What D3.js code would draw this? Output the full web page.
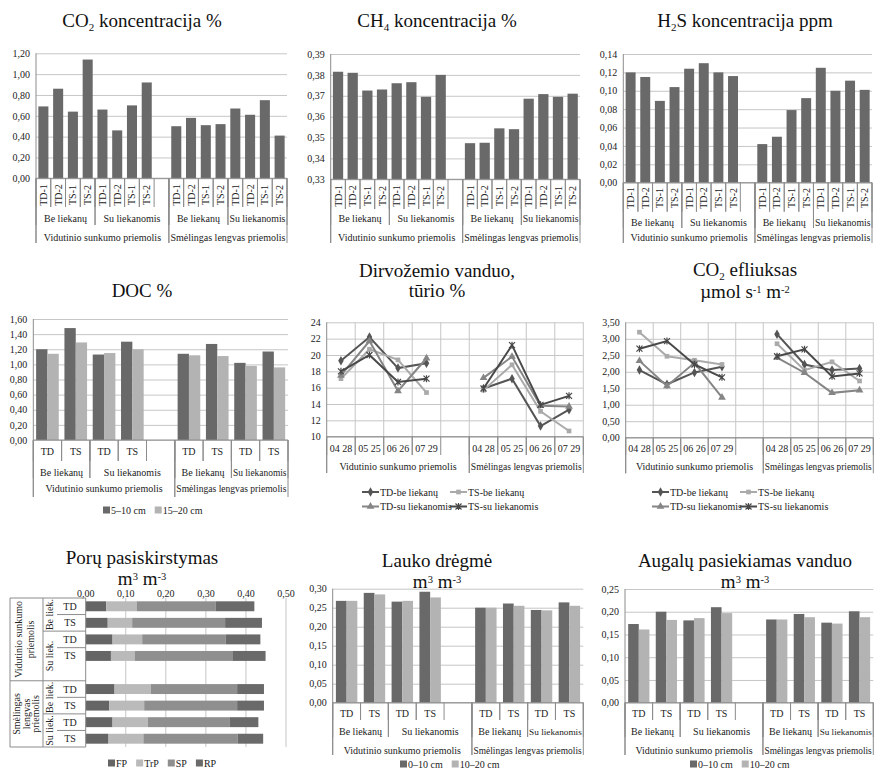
<!DOCTYPE html>
<html>
<head>
<meta charset="utf-8">
<script src="https://cdn.jsdelivr.net/npm/d3@7"></script>
<style>
body { margin: 0; background: #fff; }
svg { display: block; }
</style>
</head>
<body>
<svg id="chart" width="876" height="773"></svg>
<script>
//----------------------------------------------------------------
// donnees
//----------------------------------------------------------------
var gasCats = ["TD-1", "TD-2", "TS-1", "TS-2"];
var treatCats = ["TD", "TS"];
var residueGroups = ["Be liekanų", "Su liekanomis"];
var soilGroups = ["Vidutinio sunkumo priemolis", "Smėlingas lengvas priemolis"];
var dates = ["04 28", "05 25", "06 26", "07 29"];

// dujų koncentracija : Vid (Be TD-1..TS-2, Su TD-1..TS-2), Sm (idem)
var co2Conc = [0.69, 0.86, 0.64, 1.14, 0.66, 0.46, 0.70, 0.92, 0.50, 0.58, 0.51, 0.52, 0.67, 0.61, 0.75, 0.41];
var ch4Conc = [0.3815, 0.381, 0.3725, 0.373, 0.376, 0.3765, 0.3695, 0.380, 0.3473, 0.3475, 0.3544, 0.354, 0.3686, 0.3708, 0.3695, 0.371];
var h2sConc = [0.120, 0.115, 0.089, 0.104, 0.124, 0.130, 0.120, 0.116, 0.042, 0.050, 0.079, 0.092, 0.125, 0.100, 0.111, 0.101];

var co2Ticks = [0, 0.2, 0.4, 0.6, 0.8, 1.0, 1.2];
var ch4Ticks = [0.33, 0.34, 0.35, 0.36, 0.37, 0.38, 0.39];
var h2sTicks = [0, 0.02, 0.04, 0.06, 0.08, 0.10, 0.12, 0.14];

// DOC % (TD, TS ; Be, Su ; Vid, Sm)
var depthDoc = ["5–10 cm", "15–20 cm"];
var doc510 = [1.20, 1.48, 1.13, 1.30, 1.14, 1.27, 1.02, 1.17];
var doc1520 = [1.14, 1.29, 1.15, 1.20, 1.12, 1.11, 0.98, 0.96];
var docTicks = [0, 0.2, 0.4, 0.6, 0.8, 1.0, 1.2, 1.4, 1.6];

// series des graphiques en lignes
var lineSeries = ["TD-be liekanų", "TS-be liekanų", "TD-su liekanomis", "TS-su liekanomis"];
var moistTDbe = [19.3, 22.2, 18.4, 19.0, 15.9, 17.1, 11.3, 13.3];
var moistTSbe = [17.1, 20.7, 19.4, 15.4, 15.7, 18.8, 13.1, 10.7];
var moistTDsu = [17.5, 21.7, 15.6, 19.6, 17.2, 19.8, 13.8, 13.7];
var moistTSsu = [18.0, 20.0, 16.7, 17.1, 15.9, 21.2, 13.9, 15.0];
var moistTicks = [10, 12, 14, 16, 18, 20, 22, 24];

var effTDbe = [2.05, 1.62, 1.98, 2.15, 3.14, 2.22, 2.05, 2.10];
var effTSbe = [3.20, 2.47, 2.35, 2.22, 2.85, 2.05, 2.30, 1.72];
var effTDsu = [2.33, 1.57, 2.27, 1.22, 2.43, 1.97, 1.36, 1.44];
var effTSsu = [2.70, 2.93, 2.22, 1.83, 2.47, 2.68, 1.86, 1.95];
var effTicks = [0, 0.5, 1.0, 1.5, 2.0, 2.5, 3.0, 3.5];

// porų pasiskirstymas (eilutes : Vid Be TD, TS, Su TD, TS, Sm Be TD, TS, Su TD, TS)
var poreTypes = ["FP", "TrP", "SP", "RP"];
var poreFP  = [0.051, 0.055, 0.067, 0.063, 0.072, 0.059, 0.067, 0.057];
var poreTrP = [0.076, 0.061, 0.074, 0.060, 0.091, 0.087, 0.088, 0.087];
var poreSP  = [0.197, 0.232, 0.208, 0.243, 0.215, 0.232, 0.205, 0.235];
var poreRP  = [0.097, 0.092, 0.087, 0.083, 0.067, 0.067, 0.071, 0.064];
var poreTicks = [0, 0.1, 0.2, 0.3, 0.4, 0.5];

// lauko drėgmė ir augalų pasiekiamas vanduo
var depthWater = ["0–10 cm", "10–20 cm"];
var field010 = [0.268, 0.289, 0.266, 0.292, 0.250, 0.261, 0.244, 0.264];
var field1020 = [0.268, 0.285, 0.268, 0.277, 0.250, 0.255, 0.243, 0.255];
var fieldTicks = [0, 0.05, 0.10, 0.15, 0.20, 0.25, 0.30];
var avail010 = [0.173, 0.200, 0.181, 0.210, 0.183, 0.195, 0.176, 0.201];
var avail1020 = [0.161, 0.182, 0.186, 0.197, 0.183, 0.188, 0.174, 0.188];
var availTicks = [0, 0.05, 0.10, 0.15, 0.20, 0.25];

//----------------------------------------------------------------
// reglages communs
//----------------------------------------------------------------
var svg = d3.select("#chart");
var FONT = "'Liberation Serif', 'Times New Roman', serif";
var AXIS_COL = "#8c8c8c", GRID_COL = "#c6c6c6", TXT = "#222";
var DARK = "#696969", LIGHT = "#b3b3b3";
var LAB = 10;   // taille des etiquettes

svg.attr("font-family", FONT);

function fmt(d, n) { return d.toFixed(n).replace(".", ","); }

// la place vide entre les deux sols
function slotIndex(i, half) { return i < half ? i : i + 1; }

function hline(g, x1, x2, y) {
    g.append("line").attr("x1", x1).attr("x2", x2).attr("y1", y).attr("y2", y)
        .attr("stroke", AXIS_COL).attr("stroke-width", 1);
}
function vline(g, x, y1, y2) {
    g.append("line").attr("x1", x).attr("x2", x).attr("y1", y1).attr("y2", y2)
        .attr("stroke", AXIS_COL).attr("stroke-width", 1);
}

// reduit la taille d'un texte trop large pour sa case
function fitText(t, w) {
    var len = t.node().getComputedTextLength();
    if (len > w) t.attr("font-size", LAB * w / len);
}

//----------------------------------------------------------------
// titre avec indices / exposants : parts = [[texte, "sub"|"sup"|null], ...]
//----------------------------------------------------------------
function title(cx, y, parts) {
    var t = svg.append("text").attr("x", cx).attr("y", y)
        .attr("text-anchor", "middle").attr("font-size", 19).attr("fill", "#111");
    var shift = 0;
    parts.forEach(function(p) {
        var dy = 0, size = 19;
        if (p[1] == "sub") { dy = 4 - shift; shift = 4; size = 11; }
        else if (p[1] == "sup") { dy = -5 - shift; shift = -5; size = 10.5; }
        else { dy = -shift; shift = 0; }
        t.append("tspan").attr("dy", dy).attr("font-size", size).text(p[0]);
    });
}

//----------------------------------------------------------------
// niveaux de l'axe des categories
//----------------------------------------------------------------
function buildLevels(cats) {
    var l1 = [], l2 = [], l3 = [], pos = 0;
    soilGroups.forEach(function(soil, s) {
        var soilStart = pos;
        residueGroups.forEach(function(res, r) {
            var resStart = pos;
            cats.forEach(function(c) { l1.push({label: c, start: pos, end: pos + 1}); pos++; });
            if (s == 0 && r == 1) pos++;
            l2.push({label: res, start: resStart, end: pos});
        });
        l3.push({label: soil, start: soilStart, end: pos});
    });
    return [l1, l2, l3];
}

function dateLevels() {
    var l1 = [], l2 = [], pos = 0;
    soilGroups.forEach(function(soil, s) {
        var start = pos;
        dates.forEach(function(d) { l1.push({label: d, start: pos, end: pos + 1}); pos++; });
        if (s == 0) pos++;
        l2.push({label: soil, start: start, end: pos});
    });
    return [l1, l2];
}

function categoryAxis(g, p, levels) {
    var bw = (p.right - p.left) / p.slots;
    levels.forEach(function(items, li) {
        var row = p.rows[li];
        items.forEach(function(it) {
            var xs = p.left + it.start * bw, xe = p.left + it.end * bw;
            vline(g, xs, p.bottom, row.line);
            vline(g, xe, p.bottom, row.line);
            var t = g.append("text").attr("font-size", LAB).attr("fill", TXT)
                .attr("text-anchor", "middle").text(it.label);
            if (row.rotate) {
                t.attr("transform", "translate(" + ((xs + xe) / 2 + 3.5) + "," + row.text + ") rotate(-90)");
            } else {
                t.attr("x", (xs + xe) / 2).attr("y", row.text + 3.5);
                fitText(t, xe - xs - 3);
            }
        });
    });
}

function valueAxis(g, y, p) {
    var ax = g.append("g").attr("transform", "translate(" + p.left + ",0)")
        .call(d3.axisLeft(y).tickValues(p.ticks).tickSize(-(p.right - p.left)).tickPadding(6)
            .tickFormat(function(d) { return fmt(d, p.decimals); }));
    ax.attr("font-family", FONT).attr("font-size", LAB);
    ax.select(".domain").remove();
    ax.selectAll(".tick line").attr("stroke", GRID_COL);
    ax.selectAll(".tick text").attr("fill", TXT);
}

//----------------------------------------------------------------
// graphique en colonnes
//----------------------------------------------------------------
function columnChart(p) {
    var g = svg.append("g");
    var x = d3.scaleBand().domain(d3.range(p.slots)).range([p.left, p.right]);
    var y = d3.scaleLinear().domain([p.ticks[0], p.ticks[p.ticks.length - 1]]).range([p.bottom, p.top]);

    valueAxis(g, y, p);

    var inner = d3.scaleBand().domain(d3.range(p.series.length)).range([0, x.bandwidth() * p.barFrac]);
    var off = x.bandwidth() * (1 - p.barFrac) / 2;
    p.series.forEach(function(s, k) {
        g.selectAll(null).data(s.values).enter().append("rect")
            .attr("x", function(d, i) { return x(slotIndex(i, s.values.length / 2)) + off + inner(k); })
            .attr("y", function(d) { return y(d); })
            .attr("width", inner.bandwidth())
            .attr("height", function(d) { return y(p.ticks[0]) - y(d); })
            .attr("fill", s.color);
    });

    hline(g, p.left, p.right, p.bottom);
    vline(g, p.left, p.top, p.rows[p.rows.length - 1].line);
    categoryAxis(g, p, p.levels);
}

//----------------------------------------------------------------
// graphique en lignes
//----------------------------------------------------------------
var lineStyles = [
    {color: "#555555", shape: "diamond"},
    {color: "#aaaaaa", shape: "square"},
    {color: "#858585", shape: "triangle"},
    {color: "#484848", shape: "star"}
];

function markerPath(shape) {
    if (shape == "diamond") return d3.symbol().type(d3.symbolDiamond).size(26)();
    if (shape == "square") return d3.symbol().type(d3.symbolSquare).size(22)();
    if (shape == "triangle") return d3.symbol().type(d3.symbolTriangle).size(26)();
    return "M-3,-3L3,3M-3,3L3,-3M0,-3.5L0,3.5";
}

function drawMarker(g, cx, cy, st) {
    var m = g.append("path").attr("d", markerPath(st.shape))
        .attr("transform", "translate(" + cx + "," + cy + ")");
    if (st.shape == "star") m.attr("fill", "none").attr("stroke", st.color).attr("stroke-width", 1.2);
    else m.attr("fill", st.color);
}

function lineChart(p) {
    var g = svg.append("g");
    var x = d3.scaleBand().domain(d3.range(p.slots)).range([p.left, p.right]);
    var y = d3.scaleLinear().domain([p.ticks[0], p.ticks[p.ticks.length - 1]]).range([p.bottom, p.top]);

    valueAxis(g, y, p);
    d3.range(1, p.slots + 1).forEach(function(k) {
        g.append("line").attr("x1", p.left + k * x.step()).attr("x2", p.left + k * x.step())
            .attr("y1", p.top).attr("y2", p.bottom).attr("stroke", GRID_COL);
    });

    var line = d3.line()
        .x(function(d) { return x(d.slot) + x.bandwidth() / 2; })
        .y(function(d) { return y(d.v); });

    p.series.forEach(function(vals, k) {
        var st = lineStyles[k];
        var pts = vals.map(function(v, i) { return {v: v, slot: slotIndex(i, vals.length / 2)}; });
        [pts.slice(0, 4), pts.slice(4)].forEach(function(part) {
            g.append("path").attr("d", line(part)).attr("fill", "none")
                .attr("stroke", st.color).attr("stroke-width", 2);
        });
        pts.forEach(function(d) { drawMarker(g, x(d.slot) + x.bandwidth() / 2, y(d.v), st); });
    });

    hline(g, p.left, p.right, p.bottom);
    vline(g, p.left, p.top, p.rows[p.rows.length - 1].line);
    categoryAxis(g, p, dateLevels());

    // legende 2 x 2
    lineSeries.forEach(function(name, k) {
        var lx = p.legX + (k % 2) * 88, ly = p.legY + Math.floor(k / 2) * 14.5;
        var st = lineStyles[k];
        g.append("line").attr("x1", lx).attr("x2", lx + 17).attr("y1", ly).attr("y2", ly)
            .attr("stroke", st.color).attr("stroke-width", 2);
        drawMarker(g, lx + 8.5, ly, st);
        g.append("text").attr("x", lx + 18).attr("y", ly + 3.5).attr("font-size", LAB)
            .attr("fill", TXT).text(name);
    });
}

//----------------------------------------------------------------
// legende avec carres
//----------------------------------------------------------------
function squareLegend(x0, y0, items) {
    var g = svg.append("g"), cx = x0;
    items.forEach(function(it) {
        g.append("rect").attr("x", cx).attr("y", y0 - 3.5).attr("width", 7).attr("height", 7).attr("fill", it.color);
        var t = g.append("text").attr("x", cx + 8).attr("y", y0 + 3.5).attr("font-size", LAB)
            .attr("fill", TXT).text(it.label);
        cx += 8 + t.node().getComputedTextLength() + 9;
    });
}

//----------------------------------------------------------------
// porų pasiskirstymas (barres horizontales empilees)
//----------------------------------------------------------------
function poreChart() {
    var g = svg.append("g");
    var left = 85.7, right = 286, top = 598, bottom = 747;
    var x = d3.scaleLinear().domain([0, 0.5]).range([left, right]);
    var y = d3.scaleBand().domain(d3.range(9)).range([top, bottom]);
    var colors = ["#656565", "#bababa", "#8f8f8f", "#6a6a6a"];

    poreTicks.forEach(function(t) {
        if (t > 0) g.append("line").attr("x1", x(t)).attr("x2", x(t)).attr("y1", top).attr("y2", bottom).attr("stroke", GRID_COL);
        g.append("text").attr("x", x(t)).attr("y", 597).attr("text-anchor", "middle")
            .attr("font-size", LAB).attr("fill", TXT).text(fmt(t, 2));
    });

    var rows = poreFP.map(function(d, i) {
        return {slot: slotIndex(i, 4), vals: [poreFP[i], poreTrP[i], poreSP[i], poreRP[i]]};
    });
    var h = y.bandwidth() * 0.6;
    rows.forEach(function(r) {
        var acc = 0;
        r.vals.forEach(function(v, k) {
            g.append("rect").attr("x", x(acc)).attr("width", x(acc + v) - x(acc))
                .attr("y", y(r.slot) + (y.bandwidth() - h) / 2).attr("height", h).attr("fill", colors[k]);
            acc += v;
        });
    });

    // axe des categories a gauche
    vline(g, left, top, bottom);
    vline(g, 10, top, bottom);
    vline(g, 43, top, bottom);
    var bw = y.step();
    var rowLines = [1, 3, 6, 8], resLines = [2, 7], soilLines = [0, 5, 9];
    rowLines.forEach(function(k) { hline(g, 57, left, top + k * bw); });
    resLines.forEach(function(k) { hline(g, 43, left, top + k * bw); });
    soilLines.forEach(function(k) { hline(g, 10, left, top + k * bw); });

    rows.forEach(function(r, i) {
        g.append("text").attr("x", 70).attr("y", y(r.slot) + y.bandwidth() / 2 + 3.5)
            .attr("text-anchor", "middle").attr("font-size", LAB).attr("fill", TXT)
            .text(treatCats[i % 2]);
    });
    var resLab = [["Be liek.", 0, 2], ["Su liek.", 2, 5], ["Be liek.", 5, 7], ["Su liek.", 7, 9]];
    resLab.forEach(function(r) {
        var cy = top + (r[1] + r[2]) / 2 * bw;
        g.append("text").attr("transform", "translate(53," + cy + ") rotate(-90)")
            .attr("text-anchor", "middle").attr("font-size", LAB).attr("fill", TXT).text(r[0]);
    });
    var soilLab = [[["Vidutinio sunkumo", "priemolis"], 0, 5, [22, 34]],
                   [["Smėlingas", "lengvas", "priemolis"], 5, 9, [20, 30, 39]]];
    soilLab.forEach(function(s) {
        var cy = top + (s[1] + s[2]) / 2 * bw;
        s[0].forEach(function(txt, j) {
            g.append("text").attr("transform", "translate(" + s[3][j] + "," + cy + ") rotate(-90)")
                .attr("text-anchor", "middle").attr("font-size", LAB).attr("fill", TXT).text(txt);
        });
    });

    squareLegend(108, 763, poreTypes.map(function(n, k) { return {label: n, color: colors[k]}; }));
}

//----------------------------------------------------------------
// construction des neuf graphiques
//----------------------------------------------------------------
title(142, 27, [["CO"], ["2", "sub"], [" koncentracija %"]]);
columnChart({left: 36, right: 287, top: 53.3, bottom: 178.3, slots: 17, ticks: co2Ticks, decimals: 2,
    barFrac: 0.68, series: [{values: co2Conc, color: DARK}], levels: buildLevels(gasCats),
    rows: [{text: 195, line: 207, rotate: true}, {text: 218, line: 225}, {text: 237, line: 243}]});

title(437, 27, [["CH"], ["4", "sub"], [" koncentracija %"]]);
columnChart({left: 330.7, right: 580, top: 54, bottom: 179.3, slots: 17, ticks: ch4Ticks, decimals: 2,
    barFrac: 0.7, series: [{values: ch4Conc, color: DARK}], levels: buildLevels(gasCats),
    rows: [{text: 196, line: 209, rotate: true}, {text: 218, line: 225}, {text: 237, line: 243}]});

title(745, 27, [["H"], ["2", "sub"], ["S koncentracija ppm"]]);
columnChart({left: 623.3, right: 872, top: 54, bottom: 182.7, slots: 17, ticks: h2sTicks, decimals: 2,
    barFrac: 0.68, series: [{values: h2sConc, color: DARK}], levels: buildLevels(gasCats),
    rows: [{text: 198, line: 211.7, rotate: true}, {text: 222, line: 228}, {text: 237, line: 243}]});

title(142, 297, [["DOC %"]]);
columnChart({left: 33.3, right: 288, top: 319, bottom: 440, slots: 9, ticks: docTicks, decimals: 2,
    barFrac: 0.8, series: [{values: doc510, color: DARK}, {values: doc1520, color: LIGHT}],
    levels: buildLevels(treatCats),
    rows: [{text: 451.7, line: 461}, {text: 472.3, line: 478}, {text: 488, line: 497}]});
squareLegend(103, 510, [{label: depthDoc[0], color: DARK}, {label: depthDoc[1], color: LIGHT}]);

title(437, 277, [["Dirvožemio vanduo,"]]);
title(437, 297, [["tūrio %"]]);
lineChart({left: 326.7, right: 583.3, top: 322.3, bottom: 436.7, slots: 9, ticks: moistTicks, decimals: 0,
    series: [moistTDbe, moistTSbe, moistTDsu, moistTSsu],
    rows: [{text: 448, line: 455}, {text: 466, line: 473}], legX: 362, legY: 492});

title(745, 276, [["CO"], ["2", "sub"], [" efliuksas"]]);
title(745, 298, [["µmol s"], ["-1", "sup"], [" m"], ["-2", "sup"]]);
lineChart({left: 625.7, right: 873.3, top: 322.3, bottom: 437.7, slots: 9, ticks: effTicks, decimals: 2,
    series: [effTDbe, effTSbe, effTDsu, effTSsu],
    rows: [{text: 448.3, line: 455}, {text: 466.7, line: 473.3}], legX: 652, legY: 492});

title(142, 564, [["Porų pasiskirstymas"]]);
title(142, 585, [["m"], ["3", "sup"], [" m"], ["-3", "sup"]]);
poreChart();

var waterRows = [{text: 713.3, line: 720}, {text: 731.7, line: 737}, {text: 750, line: 755}];

title(437, 567, [["Lauko drėgmė"]]);
title(437, 588, [["m"], ["3", "sup"], [" m"], ["-3", "sup"]]);
columnChart({left: 332.7, right: 583.3, top: 588.7, bottom: 702.7, slots: 9, ticks: fieldTicks, decimals: 2,
    barFrac: 0.77, series: [{values: field010, color: DARK}, {values: field1020, color: LIGHT}],
    levels: buildLevels(treatCats), rows: waterRows});
squareLegend(400, 764, [{label: depthWater[0], color: DARK}, {label: depthWater[1], color: LIGHT}]);

title(745, 567, [["Augalų pasiekiamas vanduo"]]);
title(745, 588, [["m"], ["3", "sup"], [" m"], ["-3", "sup"]]);
columnChart({left: 625, right: 873.3, top: 589, bottom: 702.7, slots: 9, ticks: availTicks, decimals: 2,
    barFrac: 0.77, series: [{values: avail010, color: DARK}, {values: avail1020, color: LIGHT}],
    levels: buildLevels(treatCats), rows: waterRows});
squareLegend(690, 764, [{label: depthWater[0], color: DARK}, {label: depthWater[1], color: LIGHT}]);
</script>
</body>
</html>
